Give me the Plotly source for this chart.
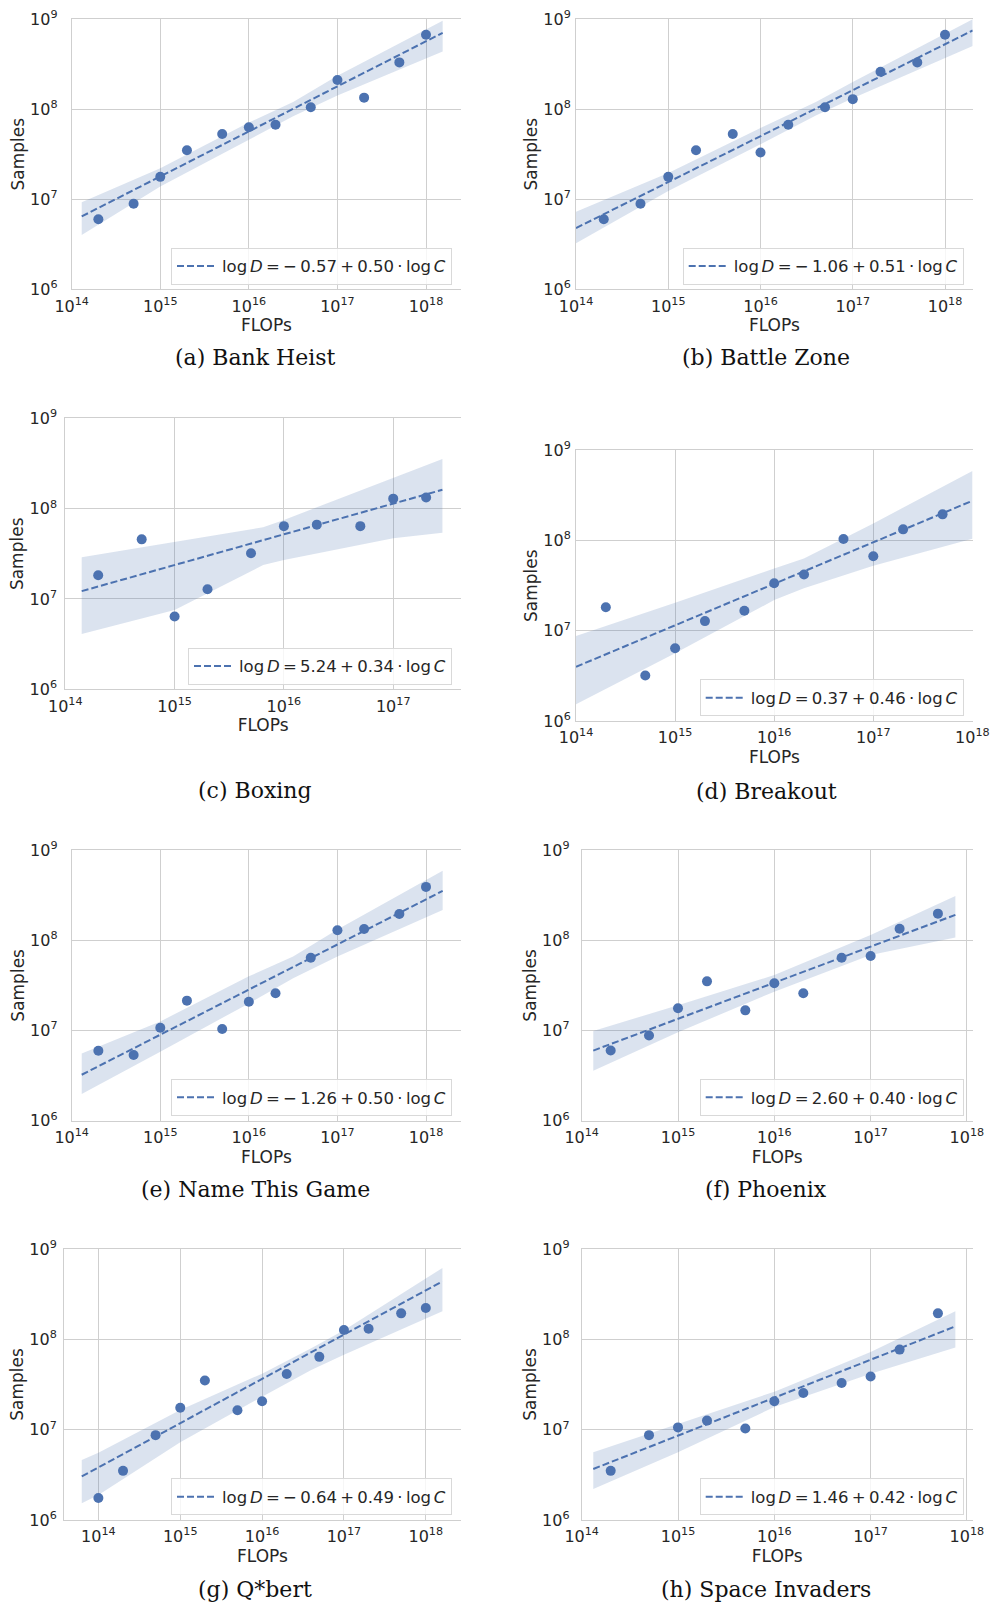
import numpy as np
import plotly.graph_objects as go

# ---------------------------------------------------------------- data
# Training compute (FLOPs) of each run and the samples it used.
bank_heist_flops = [2e14, 5e14, 1e15, 2e15, 5e15, 1e16, 2e16, 5e16, 1e17, 2e17, 5e17, 1e18]
bank_heist_samples = [6.0e6, 8.9e6, 1.77e7, 3.5e7, 5.3e7, 6.3e7, 6.7e7, 1.05e8, 2.1e8, 1.34e8, 3.3e8, 6.7e8]

battle_zone_flops = [2e14, 5e14, 1e15, 2e15, 5e15, 1e16, 2e16, 5e16, 1e17, 2e17, 5e17, 1e18]
battle_zone_samples = [6.0e6, 8.9e6, 1.77e7, 3.5e7, 5.3e7, 3.3e7, 6.7e7, 1.05e8, 1.29e8, 2.6e8, 3.3e8, 6.7e8]

boxing_flops = [2e14, 5e14, 1e15, 2e15, 5e15, 1e16, 2e16, 5e16, 1e17, 2e17]
boxing_samples = [1.83e7, 4.57e7, 6.4e6, 1.28e7, 3.2e7, 6.4e7, 6.65e7, 6.4e7, 1.29e8, 1.33e8]

breakout_flops = [2e14, 5e14, 1e15, 2e15, 5e15, 1e16, 2e16, 5e16, 1e17, 2e17, 5e17]
breakout_samples = [1.82e7, 3.2e6, 6.4e6, 1.28e7, 1.67e7, 3.36e7, 4.2e7, 1.04e8, 6.7e7, 1.33e8, 1.95e8]

name_this_game_flops = [2e14, 5e14, 1e15, 2e15, 5e15, 1e16, 2e16, 5e16, 1e17, 2e17, 5e17, 1e18]
name_this_game_samples = [5.97e6, 5.35e6, 1.07e7, 2.14e7, 1.04e7, 2.08e7, 2.58e7, 6.4e7, 1.29e8, 1.33e8, 1.95e8, 3.9e8]

phoenix_flops = [2e14, 5e14, 1e15, 2e15, 5e15, 1e16, 2e16, 5e16, 1e17, 2e17, 5e17]
phoenix_samples = [6.0e6, 8.8e6, 1.76e7, 3.5e7, 1.67e7, 3.33e7, 2.58e7, 6.4e7, 6.7e7, 1.34e8, 1.97e8]

qbert_flops = [1e14, 2e14, 5e14, 1e15, 2e15, 5e15, 1e16, 2e16, 5e16, 1e17, 2e17, 5e17, 1e18]
qbert_samples = [1.75e6, 3.5e6, 8.7e6, 1.75e7, 3.5e7, 1.64e7, 2.06e7, 4.13e7, 6.4e7, 1.27e8, 1.31e8, 1.94e8, 2.22e8]

space_invaders_flops = [2e14, 5e14, 1e15, 2e15, 5e15, 1e16, 2e16, 5e16, 1e17, 2e17, 5e17]
space_invaders_samples = [3.5e6, 8.7e6, 1.06e7, 1.26e7, 1.03e7, 2.06e7, 2.55e7, 3.29e7, 3.87e7, 7.7e7, 1.94e8]

# Fitted power laws: ln D = intercept + slope * ln C
bank_heist_fit = (-0.57, 0.50)
battle_zone_fit = (-1.06, 0.51)
boxing_fit = (5.24, 0.34)
breakout_fit = (0.37, 0.46)
name_this_game_fit = (-1.26, 0.50)
phoenix_fit = (2.60, 0.40)
qbert_fit = (-0.64, 0.49)
space_invaders_fit = (1.46, 0.42)

# Confidence band of each fit: log10 FLOPs, and log10 of lower / upper samples
bank_heist_band_logc = [14.113, 15.0, 16.0, 16.5, 17.0, 18.188]
bank_heist_band_lo = [6.603, 7.14, 7.66, 7.92, 8.15, 8.64]
bank_heist_band_hi = [6.966, 7.343, 7.85, 8.08, 8.37, 8.98]

battle_zone_band_logc = [14.0, 15.0, 16.0, 16.6, 17.0, 18.30]
battle_zone_band_lo = [6.511, 7.09, 7.61, 7.93, 8.12, 8.70]
battle_zone_band_hi = [6.862, 7.29, 7.79, 8.08, 8.30, 8.997]

boxing_band_logc = [14.15, 15.0, 15.81, 16.0, 17.0, 17.45]
boxing_band_lo = [6.613, 6.878, 7.376, 7.43, 7.672, 7.734]
boxing_band_hi = [7.461, 7.635, 7.793, 7.875, 8.336, 8.55]

breakout_band_logc = [14.0, 15.0, 16.0, 16.3, 17.0, 18.0]
breakout_band_lo = [6.185, 6.75, 7.34, 7.47, 7.72, 8.02]
breakout_band_hi = [6.942, 7.31, 7.69, 7.80, 8.19, 8.77]

name_this_game_band_logc = [14.113, 15.0, 16.0, 16.5, 17.0, 18.188]
name_this_game_band_lo = [6.296, 6.765, 7.30, 7.58, 7.82, 8.335]
name_this_game_band_hi = [6.746, 7.10, 7.60, 7.82, 8.12, 8.77]

phoenix_band_logc = [14.12, 15.0, 16.0, 16.19, 17.0, 17.88]
phoenix_band_lo = [6.554, 6.98, 7.43, 7.50, 7.836, 8.03]
phoenix_band_hi = [6.994, 7.28, 7.614, 7.70, 8.058, 8.49]

qbert_band_logc = [13.797, 14.0, 15.0, 16.0, 16.6, 17.0, 18.203]
qbert_band_lo = [6.185, 6.277, 6.86, 7.365, 7.66, 7.83, 8.31]
qbert_band_hi = [6.664, 6.745, 7.218, 7.62, 7.90, 8.10, 8.79]

space_invaders_band_logc = [14.12, 15.0, 16.0, 16.16, 17.0, 17.88]
space_invaders_band_lo = [6.343, 6.75, 7.25, 7.31, 7.62, 7.91]
space_invaders_band_hi = [6.749, 7.06, 7.42, 7.49, 7.86, 8.31]

captions = ["(a) Bank Heist", "(b) Battle Zone", "(c) Boxing", "(d) Breakout",
            "(e) Name This Game", "(f) Phoenix", "(g) Q*bert", "(h) Space Invaders"]

x_tick_exponents = [14, 15, 16, 17, 18]
y_tick_exponents = [6, 7, 8, 9]

# ---------------------------------------------------------------- layout
W, H = 992, 1604
BLUE = "#4C72B0"
BAND = "rgba(76,114,176,0.2)"
GRID = "#cfcfcf"
TEXT = "#262626"
SANS = "DejaVu Sans"
SERIF = "DejaVu Serif"

panels = [
    dict(flops=bank_heist_flops, samples=bank_heist_samples, fit=bank_heist_fit,
         band=(bank_heist_band_logc, bank_heist_band_lo, bank_heist_band_hi)),
    dict(flops=battle_zone_flops, samples=battle_zone_samples, fit=battle_zone_fit,
         band=(battle_zone_band_logc, battle_zone_band_lo, battle_zone_band_hi)),
    dict(flops=boxing_flops, samples=boxing_samples, fit=boxing_fit,
         band=(boxing_band_logc, boxing_band_lo, boxing_band_hi)),
    dict(flops=breakout_flops, samples=breakout_samples, fit=breakout_fit,
         band=(breakout_band_logc, breakout_band_lo, breakout_band_hi)),
    dict(flops=name_this_game_flops, samples=name_this_game_samples, fit=name_this_game_fit,
         band=(name_this_game_band_logc, name_this_game_band_lo, name_this_game_band_hi)),
    dict(flops=phoenix_flops, samples=phoenix_samples, fit=phoenix_fit,
         band=(phoenix_band_logc, phoenix_band_lo, phoenix_band_hi)),
    dict(flops=qbert_flops, samples=qbert_samples, fit=qbert_fit,
         band=(qbert_band_logc, qbert_band_lo, qbert_band_hi)),
    dict(flops=space_invaders_flops, samples=space_invaders_samples, fit=space_invaders_fit,
         band=(space_invaders_band_logc, space_invaders_band_lo, space_invaders_band_hi)),
]

# plot-area boxes in pixels (left, right, top, bottom) and x-axis ranges (log10)
boxes = [
    (71.7, 461.0, 19.0, 289.3), (576.0, 972.7, 19.0, 289.3),
    (65.3, 461.0, 418.3, 689.3), (576.0, 972.7, 450.3, 721.0),
    (71.7, 461.0, 850.0, 1120.7), (581.7, 972.7, 850.0, 1120.7),
    (64.0, 461.0, 1249.0, 1520.0), (581.7, 972.7, 1249.0, 1520.0),
]
x_ranges = [(14.0, 18.395), (14.0, 18.30), (14.0, 17.62), (14.0, 18.003),
            (14.0, 18.395), (14.0, 18.06), (13.58, 18.43), (14.0, 18.06)]
# gap between the y tick labels and the plot area, per panel (whole pixels)
y_label_gaps = [10, 1, 4, 1, 10, 8, 3, 8]
caption_pos = [(255, 357), (766, 357), (255, 790), (766, 791),
               (255, 1189), (766, 1189), (255, 1589), (766, 1589)]


def eq_label(a, b):
    thin, op = "\u2006", "\u2009"
    sign = "\u2212" + op if a < 0 else ""
    return (f"log{thin}<i>D</i>{op}={op}{sign}{abs(a):.2f}{op}+{op}{b:.2f}"
            f"{op}\u00b7{op}log{thin}<i>C</i>")


fig = go.Figure()
layout = dict(
    width=W, height=H, autosize=False,
    margin=dict(l=0, r=0, t=0, b=0, pad=0, autoexpand=False),
    paper_bgcolor="white", plot_bgcolor="white",
    font=dict(family=SANS, color=TEXT),
    annotations=[],
)

for i, p in enumerate(panels):
    k = i + 1
    xa = "x" if k == 1 else f"x{k}"
    ya = "y" if k == 1 else f"y{k}"
    leg = "legend" if k == 1 else f"legend{k}"
    a, b = p["fit"]
    logc, lo, hi = p["band"]

    # confidence band
    bx = [10 ** v for v in logc] + [10 ** v for v in logc[::-1]]
    by = [10 ** v for v in hi] + [10 ** v for v in lo[::-1]]
    fig.add_trace(go.Scatter(x=bx, y=by, xaxis=xa, yaxis=ya, fill="toself",
                             fillcolor=BAND, line=dict(width=0), mode="lines",
                             hoverinfo="skip", showlegend=False))
    # fitted power law
    lx = np.array([10 ** logc[0], 10 ** logc[-1]])
    ly = np.exp(a + b * np.log(lx))
    fig.add_trace(go.Scatter(x=lx, y=ly, xaxis=xa, yaxis=ya, mode="lines",
                             line=dict(color=BLUE, width=2, dash="7px,3px"),
                             name=eq_label(a, b), legend=leg, showlegend=True))
    # runs
    fig.add_trace(go.Scatter(x=p["flops"], y=p["samples"], xaxis=xa, yaxis=ya,
                             mode="markers", marker=dict(color=BLUE, size=10),
                             showlegend=False))

    L, R, T, B = boxes[i]
    axis_common = dict(type="log", showgrid=True, gridcolor=GRID, gridwidth=1,
                       zeroline=False, showline=True, linecolor=GRID, linewidth=1,
                       ticks="", automargin=False,
                       tickfont=dict(family=SANS, size=16, color=TEXT))
    layout["xaxis" if k == 1 else f"xaxis{k}"] = dict(
        axis_common, domain=[L / W, R / W], anchor=ya, range=list(x_ranges[i]),
        mirror=True,
        tickvals=[10 ** e for e in x_tick_exponents],
        ticktext=[f"10<sup>{e}</sup>" for e in x_tick_exponents],
        ticklabelstandoff=2,
        title=dict(text="FLOPs", font=dict(family=SANS, size=17, color=TEXT), standoff=2),
    )
    layout["yaxis" if k == 1 else f"yaxis{k}"] = dict(
        axis_common, domain=[1 - B / H, 1 - T / H], anchor=xa, range=[6, 9],
        tickvals=[10 ** e for e in y_tick_exponents],
        ticktext=[f"10<sup>{e}</sup>" for e in y_tick_exponents],
        ticklabelstandoff=y_label_gaps[i],
        title=dict(text="Samples", font=dict(family=SANS, size=17, color=TEXT), standoff=1),
    )
    layout[leg] = dict(
        x=(R - 9) / W, y=1 - (B - 4.6) / H, xanchor="right", yanchor="bottom",
        bgcolor="rgba(255,255,255,0.8)", bordercolor="#d9d9d9", borderwidth=1,
        font=dict(family=SANS, size=16.5, color=TEXT), itemwidth=40,
    )
    cx, cy = caption_pos[i]
    layout["annotations"].append(dict(
        text=captions[i], x=cx / W, y=1 - cy / H, xref="paper", yref="paper",
        xanchor="center", yanchor="middle", showarrow=False,
        font=dict(family=SERIF, size=22, color="#111111"),
    ))

fig.update_layout(**layout)
fig.write_html("out.html")
